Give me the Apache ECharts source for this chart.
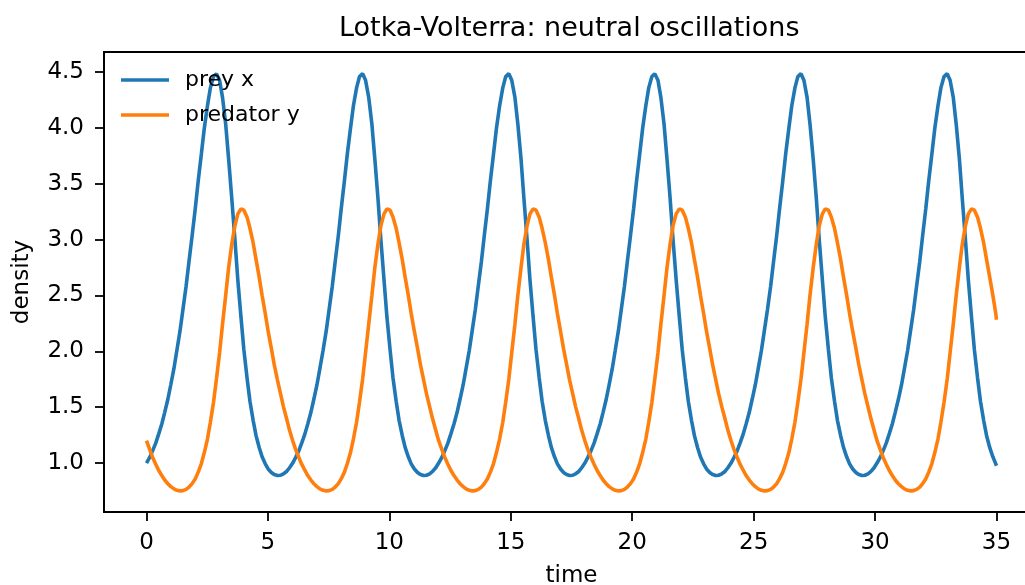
<!DOCTYPE html>
<html>
<head>
<meta charset="utf-8">
<script src="https://cdn.jsdelivr.net/npm/echarts@6/dist/echarts.min.js"></script>
<style>
html,body{margin:0;padding:0;background:#fff;}
#chart{width:1025px;height:585px;}
</style>
</head>
<body>
<div id="chart"></div>
<script>
// time samples
const time = [
0,0.13,0.25,0.38,0.5,0.63,0.75,0.88,1.0,1.13,1.25,1.38,1.5,1.63,1.75,1.88,2.01,2.13,2.26,2.38,2.51,2.63,2.76,2.88,3.01,3.13,3.26,3.38,3.51,3.64,3.76,3.89,4.01,4.14,4.26,4.39,4.51,4.64,4.76,4.89,5.01,5.14,5.26,5.39,5.52,5.64,5.77,5.89,
6.02,6.14,6.27,6.39,6.52,6.64,6.77,6.89,7.02,7.14,7.27,7.40,7.52,7.65,7.77,7.90,8.02,8.15,8.27,8.40,8.52,8.65,8.77,8.90,9.02,9.15,9.28,9.40,9.53,9.65,9.78,9.90,10.03,10.15,10.28,10.40,10.53,10.65,10.78,10.90,11.03,11.16,11.28,11.41,11.53,11.66,11.78,11.91,
12.03,12.16,12.28,12.41,12.53,12.66,12.79,12.91,13.04,13.16,13.29,13.41,13.54,13.66,13.79,13.91,14.04,14.16,14.29,14.41,14.54,14.67,14.79,14.92,15.04,15.17,15.29,15.42,15.54,15.67,15.79,15.92,16.04,16.17,16.29,16.42,16.55,16.67,16.80,16.92,17.05,17.17,17.30,17.42,17.55,17.67,17.80,17.92,
18.05,18.17,18.30,18.43,18.55,18.68,18.80,18.93,19.05,19.18,19.30,19.43,19.55,19.68,19.80,19.93,20.06,20.18,20.31,20.43,20.56,20.68,20.81,20.93,21.06,21.18,21.31,21.43,21.56,21.68,21.81,21.94,22.06,22.19,22.31,22.44,22.56,22.69,22.81,22.94,23.06,23.19,23.31,23.44,23.56,23.69,23.82,23.94,
24.07,24.19,24.32,24.44,24.57,24.69,24.82,24.94,25.07,25.19,25.32,25.44,25.57,25.70,25.82,25.95,26.07,26.20,26.32,26.45,26.57,26.70,26.82,26.95,27.07,27.20,27.32,27.45,27.58,27.70,27.83,27.95,28.08,28.20,28.33,28.45,28.58,28.70,28.83,28.95,29.08,29.21,29.33,29.46,29.58,29.71,29.83,29.96,
30.08,30.21,30.33,30.46,30.58,30.71,30.83,30.96,31.09,31.21,31.34,31.46,31.59,31.71,31.84,31.96,32.09,32.21,32.34,32.46,32.59,32.71,32.84,32.97,33.09,33.22,33.34,33.47,33.59,33.72,33.84,33.97,34.09,34.22,34.34,34.47,34.59,34.72,34.85,34.97,35.0
];

// prey x
const prey = [
1.000,1.050,1.109,1.178,1.259,1.350,1.454,1.571,1.701,1.847,2.007,2.183,2.375,2.583,2.804,3.038,3.281,3.527,3.768,3.997,4.198,4.358,4.459,4.485,4.426,4.273,4.035,3.726,3.372,3.002,2.640,2.307,2.013,1.762,1.553,1.383,1.247,1.140,1.056,0.993,0.947,0.916,0.897,0.889,0.891,0.904,0.925,0.958,
1.000,1.050,1.109,1.178,1.259,1.350,1.454,1.571,1.701,1.847,2.007,2.183,2.375,2.583,2.804,3.038,3.281,3.527,3.768,3.997,4.198,4.358,4.459,4.485,4.426,4.273,4.035,3.726,3.372,3.002,2.640,2.307,2.013,1.762,1.553,1.383,1.247,1.140,1.056,0.993,0.947,0.916,0.897,0.889,0.891,0.904,0.925,0.958,
1.000,1.050,1.109,1.178,1.259,1.350,1.454,1.571,1.701,1.847,2.007,2.183,2.375,2.583,2.804,3.038,3.281,3.527,3.768,3.997,4.198,4.358,4.459,4.485,4.426,4.273,4.035,3.726,3.372,3.002,2.640,2.307,2.013,1.762,1.553,1.383,1.247,1.140,1.056,0.993,0.947,0.916,0.897,0.889,0.891,0.904,0.925,0.958,
1.000,1.050,1.109,1.178,1.259,1.350,1.454,1.571,1.701,1.847,2.007,2.183,2.375,2.583,2.804,3.038,3.281,3.527,3.768,3.997,4.198,4.358,4.459,4.485,4.426,4.273,4.035,3.726,3.372,3.002,2.640,2.307,2.013,1.762,1.553,1.383,1.247,1.140,1.056,0.993,0.947,0.916,0.897,0.889,0.891,0.904,0.925,0.958,
1.000,1.050,1.109,1.178,1.259,1.350,1.454,1.571,1.701,1.847,2.007,2.183,2.375,2.583,2.804,3.038,3.281,3.527,3.768,3.997,4.198,4.358,4.459,4.485,4.426,4.273,4.035,3.726,3.372,3.002,2.640,2.307,2.013,1.762,1.553,1.383,1.247,1.140,1.056,0.993,0.947,0.916,0.897,0.889,0.891,0.904,0.925,0.958,
1.000,1.050,1.109,1.178,1.259,1.350,1.454,1.571,1.701,1.847,2.007,2.183,2.375,2.583,2.804,3.038,3.281,3.527,3.768,3.997,4.198,4.358,4.459,4.485,4.426,4.273,4.035,3.726,3.372,3.002,2.640,2.307,2.013,1.762,1.553,1.383,1.247,1.140,1.056,0.993,0.976
];

// predator y
const predator = [
1.200,1.122,1.052,0.990,0.936,0.888,0.848,0.815,0.789,0.769,0.756,0.751,0.753,0.764,0.785,0.816,0.860,0.919,0.996,1.094,1.215,1.365,1.544,1.753,1.988,2.242,2.500,2.745,2.958,3.123,3.230,3.275,3.263,3.201,3.101,2.972,2.823,2.664,2.501,2.338,2.178,2.026,1.881,1.745,1.619,1.503,1.396,1.293,
1.200,1.122,1.052,0.990,0.936,0.888,0.848,0.815,0.789,0.769,0.756,0.751,0.753,0.764,0.785,0.816,0.860,0.919,0.996,1.094,1.215,1.365,1.544,1.753,1.988,2.242,2.500,2.745,2.958,3.123,3.230,3.275,3.263,3.201,3.101,2.972,2.823,2.664,2.501,2.338,2.178,2.026,1.881,1.745,1.619,1.503,1.396,1.293,
1.200,1.122,1.052,0.990,0.936,0.888,0.848,0.815,0.789,0.769,0.756,0.751,0.753,0.764,0.785,0.816,0.860,0.919,0.996,1.094,1.215,1.365,1.544,1.753,1.988,2.242,2.500,2.745,2.958,3.123,3.230,3.275,3.263,3.201,3.101,2.972,2.823,2.664,2.501,2.338,2.178,2.026,1.881,1.745,1.619,1.503,1.396,1.293,
1.200,1.122,1.052,0.990,0.936,0.888,0.848,0.815,0.789,0.769,0.756,0.751,0.753,0.764,0.785,0.816,0.860,0.919,0.996,1.094,1.215,1.365,1.544,1.753,1.988,2.242,2.500,2.745,2.958,3.123,3.230,3.275,3.263,3.201,3.101,2.972,2.823,2.664,2.501,2.338,2.178,2.026,1.881,1.745,1.619,1.503,1.396,1.293,
1.200,1.122,1.052,0.990,0.936,0.888,0.848,0.815,0.789,0.769,0.756,0.751,0.753,0.764,0.785,0.816,0.860,0.919,0.996,1.094,1.215,1.365,1.544,1.753,1.988,2.242,2.500,2.745,2.958,3.123,3.230,3.275,3.263,3.201,3.101,2.972,2.823,2.664,2.501,2.338,2.178,2.026,1.881,1.745,1.619,1.503,1.396,1.293,
1.200,1.122,1.052,0.990,0.936,0.888,0.848,0.815,0.789,0.769,0.756,0.751,0.753,0.764,0.785,0.816,0.860,0.919,0.996,1.094,1.215,1.365,1.544,1.753,1.988,2.242,2.500,2.745,2.958,3.123,3.230,3.275,3.263,3.201,3.101,2.972,2.823,2.664,2.501,2.338,2.283
];

const xTicks = [0, 5, 10, 15, 20, 25, 30, 35];
const yTicks = [1.0, 1.5, 2.0, 2.5, 3.0, 3.5, 4.0, 4.5];
const seriesNames = ['prey x', 'predator y'];
const titleText = 'Lotka-Volterra: neutral oscillations';

const FONT = 'DejaVu Sans';
const chart = echarts.init(document.getElementById('chart'), null, {renderer: 'canvas'});

const pairs = (ys) => time.map((t, i) => [t, ys[i]]);

chart.setOption({
  animation: false,
  backgroundColor: '#ffffff',
  title: {
    text: titleText,
    left: 339,
    top: 15,
    padding: 0,
    textStyle: {fontFamily: FONT, fontSize: 27, fontWeight: 'normal', color: '#000'}
  },
  legend: {
    data: seriesNames,
    orient: 'vertical',
    left: 121,
    top: 68,
    padding: 0,
    itemGap: 11,
    itemWidth: 48,
    itemHeight: 3.5,
    icon: 'rect',
    textStyle: {fontFamily: FONT, fontSize: 22, color: '#000', lineHeight: 24, padding: [0, 0, 0, 11]}
  },
  grid: {
    left: 104,
    top: 52,
    right: -14,
    bottom: 73,
    outerBoundsMode: 'none',
    containLabel: false,
    show: true,
    borderColor: '#000',
    borderWidth: 1.8,
    backgroundColor: 'transparent'
  },
  xAxis: {
    type: 'value',
    min: -1.75,
    max: 36.75,
    name: 'time',
    nameLocation: 'middle',
    nameGap: 53,
    nameTextStyle: {fontFamily: FONT, fontSize: 23, color: '#000'},
    axisLine: {show: true, onZero: false, lineStyle: {color: '#000', width: 1.8}},
    splitLine: {show: false},
    axisTick: {show: true, customValues: xTicks, length: 9, inside: false, lineStyle: {color: '#000', width: 1.8}},
    axisLabel: {customValues: xTicks, fontFamily: FONT, fontSize: 23, color: '#000', margin: 20,
      formatter: (v) => String(v)}
  },
  yAxis: {
    type: 'value',
    min: 0.562,
    max: 4.679,
    name: 'density',
    nameLocation: 'middle',
    nameGap: 70,
    nameTextStyle: {fontFamily: FONT, fontSize: 23, color: '#000'},
    axisLine: {show: true, onZero: false, lineStyle: {color: '#000', width: 1.8}},
    splitLine: {show: false},
    axisTick: {show: true, customValues: yTicks, length: 9, inside: false, lineStyle: {color: '#000', width: 1.8}},
    axisLabel: {customValues: yTicks, fontFamily: FONT, fontSize: 23, color: '#000', margin: 20,
      formatter: (v) => Number(v).toFixed(1)}
  },
  series: [
    {
      name: seriesNames[0],
      type: 'line',
      data: pairs(prey),
      showSymbol: false,
      symbol: 'none',
      smooth: false,
      lineStyle: {color: '#1f77b4', width: 3.6},
      itemStyle: {color: '#1f77b4'},
      z: 2
    },
    {
      name: seriesNames[1],
      type: 'line',
      data: pairs(predator),
      showSymbol: false,
      symbol: 'none',
      smooth: false,
      lineStyle: {color: '#ff7f0e', width: 3.6},
      itemStyle: {color: '#ff7f0e'},
      z: 3
    }
  ]
});
</script>
</body>
</html>
